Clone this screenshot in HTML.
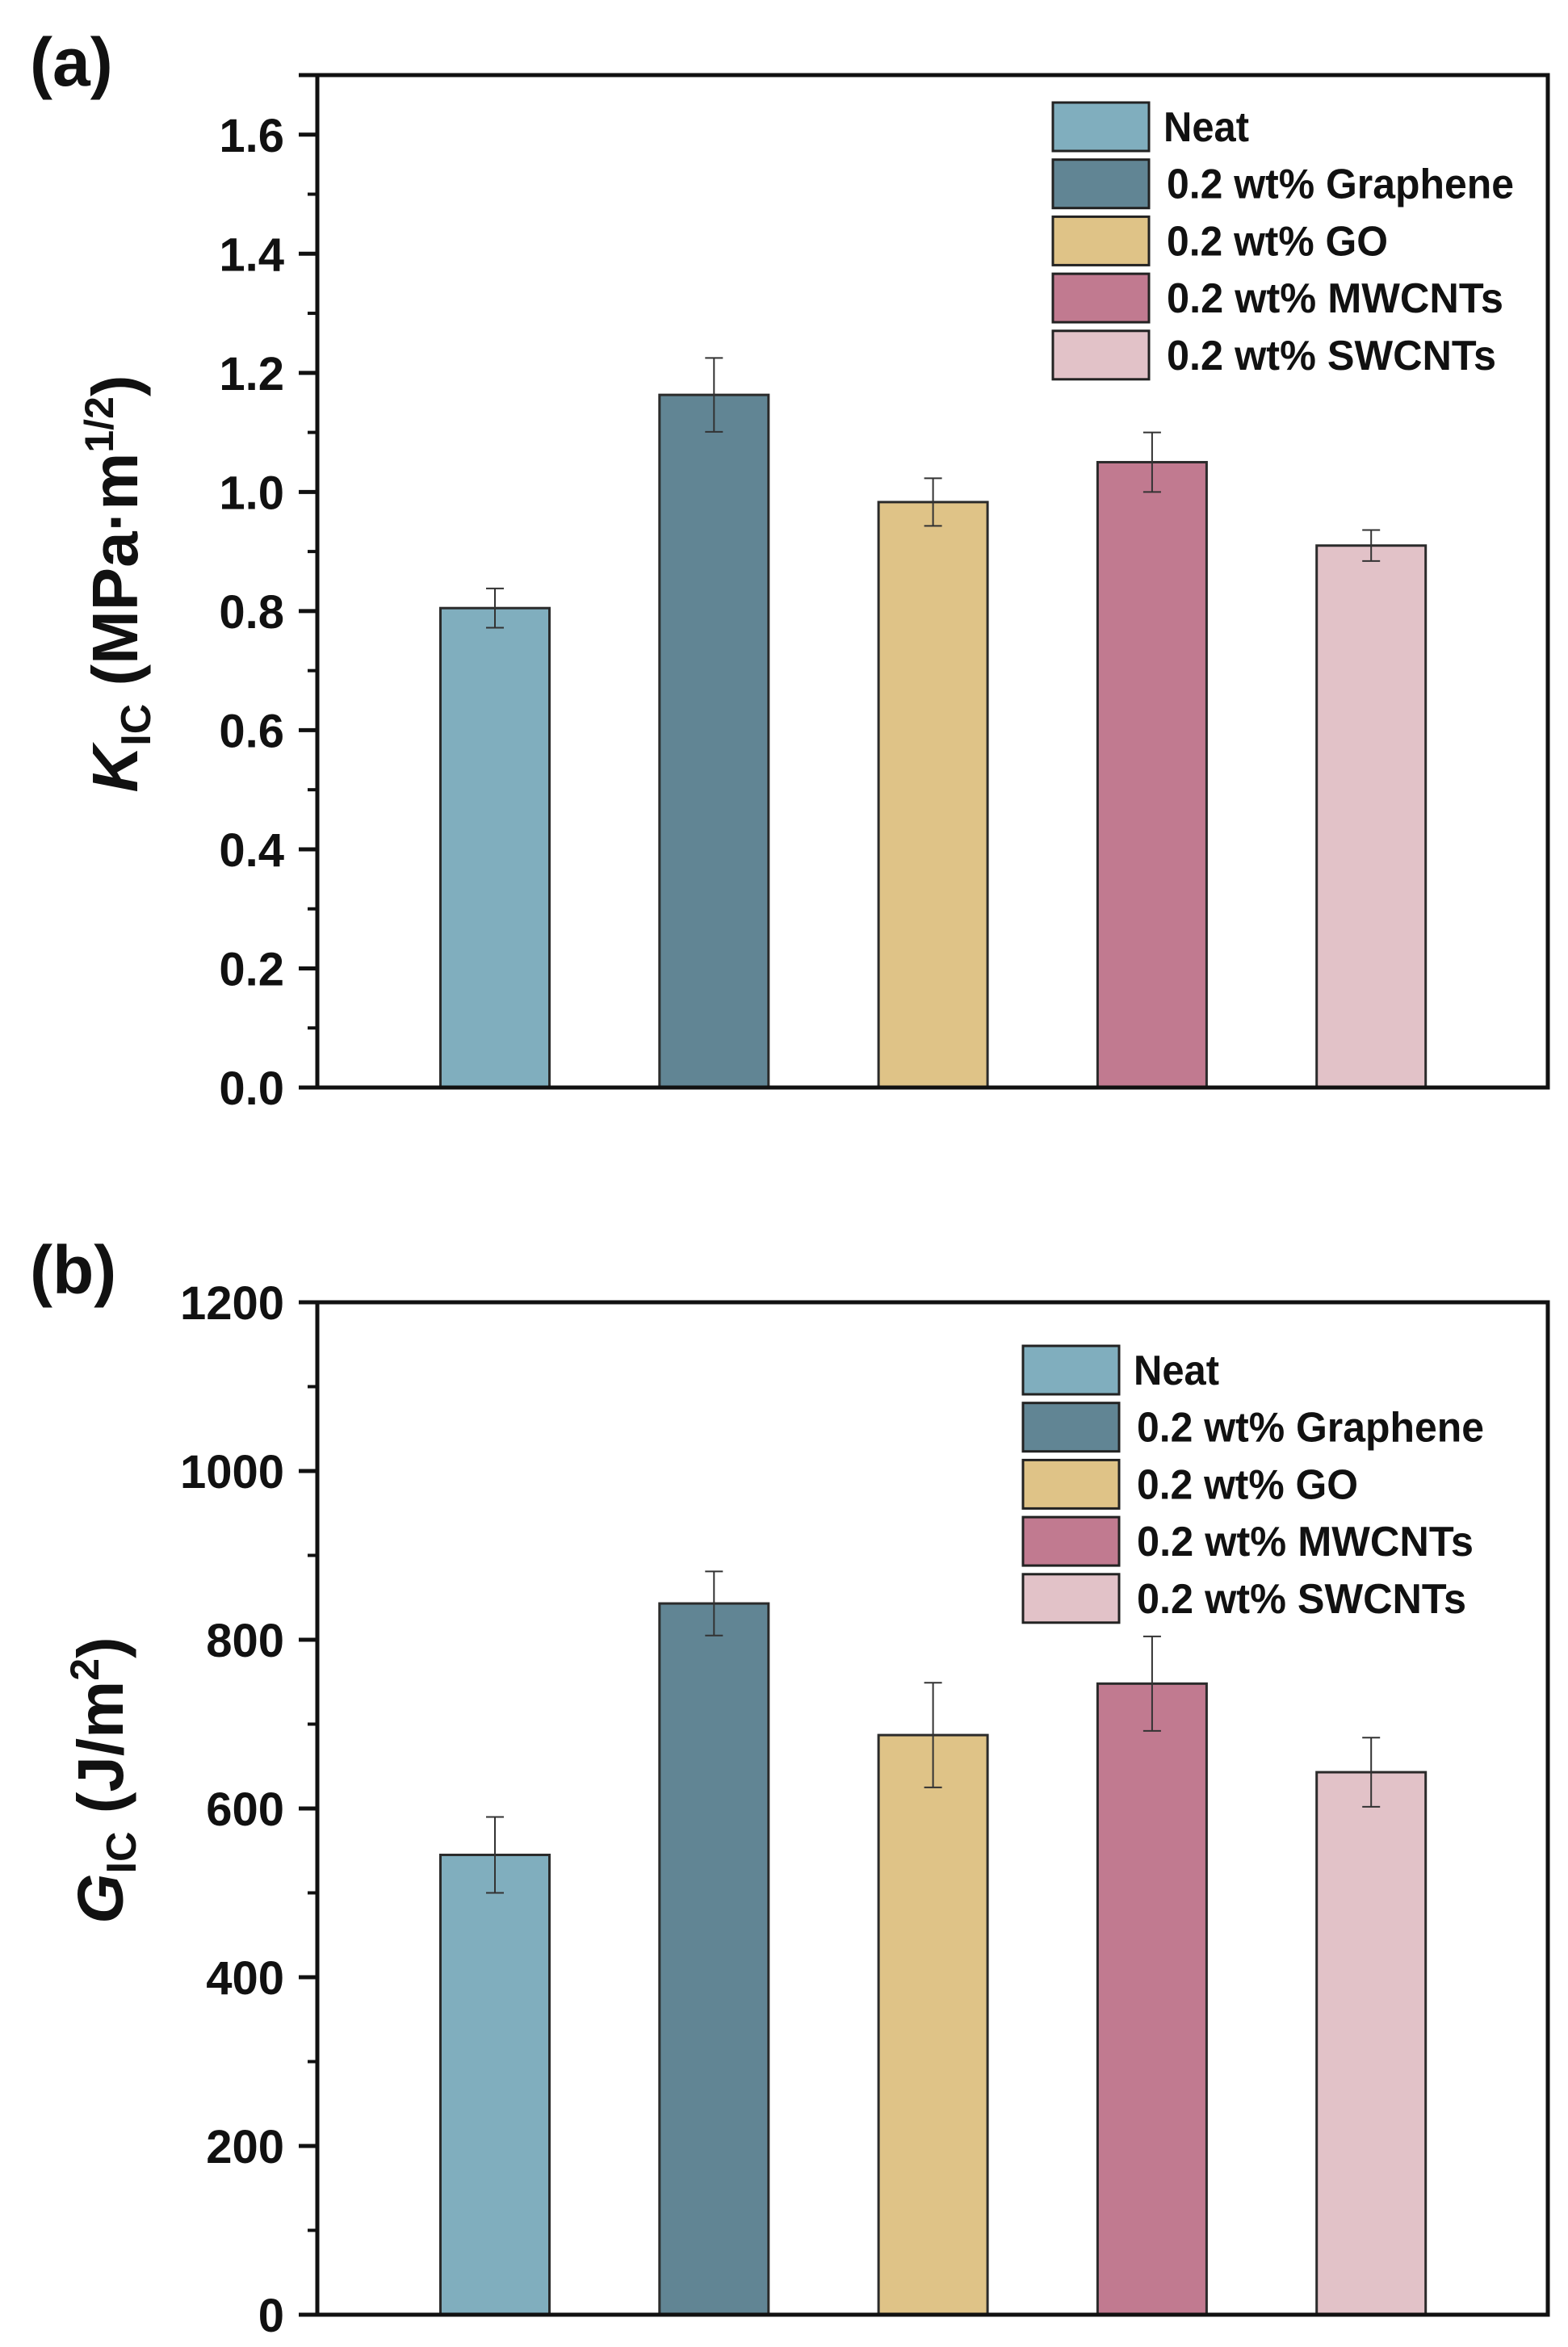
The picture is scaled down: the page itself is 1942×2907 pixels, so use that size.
<!DOCTYPE html>
<html><head><meta charset="utf-8">
<style>
html,body{margin:0;padding:0;background:#fff;}
svg{display:block;font-family:"Liberation Sans",Arial,sans-serif;font-weight:bold;}
</style></head>
<body>
<svg id="fig" width="1942" height="2907" viewBox="0 0 1942 2907" xmlns="http://www.w3.org/2000/svg"></svg>
<script>
const categories = ["Neat","0.2 wt% Graphene","0.2 wt% GO","0.2 wt% MWCNTs","0.2 wt% SWCNTs"];
const colors = ["#80AEBE","#618594","#DFC387","#C17A90","#E2C2C8"];
const kicValues = [0.805, 1.163, 0.983, 1.05, 0.91];
const kicErrors = [0.033, 0.062, 0.040, 0.050, 0.026];
const kicTicks = ["0.0","0.2","0.4","0.6","0.8","1.0","1.2","1.4","1.6"];
const gicValues = [545, 843, 687, 748, 643];
const gicErrors = [45, 38, 62, 56, 41];
const gicTicks = ["0","200","400","600","800","1000","1200"];

const NS = "http://www.w3.org/2000/svg";
const svg = document.getElementById('fig');
function mk(tag, attrs, parent){
  const e = document.createElementNS(NS, tag);
  for (const k in attrs) e.setAttribute(k, attrs[k]);
  (parent||svg).appendChild(e);
  return e;
}

function panel(cfg){
  const g = mk('g', {});
  
  
  const L=393, R=1917, T=cfg.top, B=cfg.bottom;
  const y = v => B - (v - cfg.ymin)/(cfg.ymax - cfg.ymin)*(B-T);
  const x = i => 613 + i*271.3;
  const bw = 135;
  cfg.values.forEach((v,i)=>{
    const r = mk('rect',{x:x(i)-bw/2,y:y(v),width:bw,height:B-y(v),fill:colors[i],stroke:'#2b2b2b','stroke-width':3},g);
    
    
    const e = cfg.errors[i];
    const eb = mk('path',{d:`M${x(i)},${y(v+e)}V${y(v-e)}M${x(i)-11},${y(v+e)}H${x(i)+11}M${x(i)-11},${y(v-e)}H${x(i)+11}`,stroke:'#333','stroke-width':2,fill:'none'},g);
    
    
  });
  const fr = mk('rect',{x:L,y:T,width:R-L,height:B-T,fill:'none',stroke:'#111','stroke-width':5},g);
  
  
  mk('line',{x1:370,y1:B,x2:L,y2:B,stroke:'#111','stroke-width':5},g);
  mk('line',{x1:370,y1:T,x2:L,y2:T,stroke:'#111','stroke-width':5},g);
  cfg.ticks.forEach((t,i)=>{
    const v = cfg.ymin + i*cfg.step;
    mk('line',{x1:370,y1:y(v),x2:L,y2:y(v),stroke:'#111','stroke-width':5},g);
    const tx = mk('text',{x:352,y:y(v)+21,'text-anchor':'end','font-size':58,fill:'#111'},g);
    tx.textContent = t;
    
    
    const mv = v + cfg.step/2;
    if (mv < cfg.ymax) mk('line',{x1:381,y1:y(mv),x2:L,y2:y(mv),stroke:'#111','stroke-width':4},g);
  });
  categories.forEach((c,i)=>{
    const cy = cfg.legY + i*70.7;
    const sw = mk('rect',{x:cfg.legX,y:cy-30,width:119,height:60,fill:colors[i],stroke:'#222','stroke-width':3},g);
    
    
    const tx = mk('text',{x:cfg.legX+141 + (i===0?-4:0),y:cy+18,'font-size':52,fill:'#111'},g);
    tx.textContent = c;
    const w = [106,430,274,417,408][i];
    tx.setAttribute('textLength', w);
    tx.setAttribute('lengthAdjust','spacingAndGlyphs');
    
    
  });
  const pl = mk('text',{x:37,y:cfg.letterY,'font-size':84,fill:'#111'},g);
  pl.textContent = cfg.letter;
  
  
  return g;
}

panel({name:'panel-a-kic-chart',top:93,bottom:1347,ymin:0,ymax:1.7,step:0.2,ticks:kicTicks,values:kicValues,errors:kicErrors,legX:1304,legY:157,letter:'(a)',letterY:106});
panel({name:'panel-b-gic-chart',top:1613,bottom:2867,ymin:0,ymax:1200,step:200,ticks:gicTicks,values:gicValues,errors:gicErrors,legX:1267,legY:1697,letter:'(b)',letterY:1602});

const ta = mk('text',{transform:'translate(170,723) rotate(-90)','text-anchor':'middle','font-size':80,fill:'#111'});


ta.innerHTML = '<tspan font-style="italic">K</tspan><tspan font-size="52" dy="16">IC</tspan><tspan dy="-16"> (MPa·m</tspan><tspan font-size="50" dy="-30">1/2</tspan><tspan dy="30">)</tspan>';
const tb = mk('text',{transform:'translate(152,2205) rotate(-90)','text-anchor':'middle','font-size':80,fill:'#111'});


tb.innerHTML = '<tspan font-style="italic">G</tspan><tspan font-size="52" dy="16">IC</tspan><tspan dy="-16"> (J/m</tspan><tspan font-size="50" dy="-30">2</tspan><tspan dy="30">)</tspan>';
</script>
</body></html>
